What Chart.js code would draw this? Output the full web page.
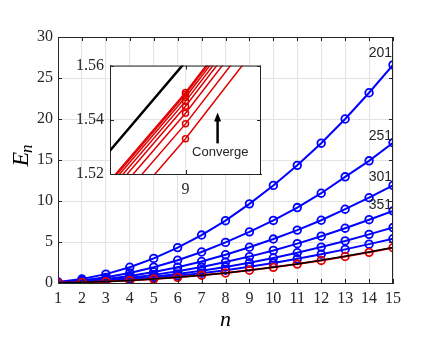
<!DOCTYPE html>
<html>
<head>
<meta charset="utf-8">
<script src="https://cdn.jsdelivr.net/npm/chart.js@4"></script>
<style>
  body { margin: 0; background: #fff; }
  #wrap { position: relative; width: 436px; height: 349px; }
  #main { position: absolute; left: 0; top: 0; }
  #inset { position: absolute; left: 70px; top: 50px; }
</style>
</head>
<body>
<div id="wrap">
  <canvas id="main" width="436" height="349"></canvas>
  <canvas id="inset" width="200" height="150"></canvas>
</div>
<script>
// quantum number n
const nValues = [1, 2, 3, 4, 5, 6, 7, 8, 9, 10, 11, 12, 13, 14, 15];

// blue curves (grid sizes 201, 251, 301, 351 and two finer ones)
const blue201 = [0.12, 0.48, 1.08, 1.92, 3.0, 4.32, 5.85, 7.6, 9.65, 11.9, 14.35, 17.05, 20.0, 23.2, 26.6];
const blue251 = [0.08, 0.31, 0.69, 1.23, 1.93, 2.78, 3.78, 4.95, 6.24, 7.63, 9.2, 10.95, 12.95, 14.9, 17.1];
const blue301 = [0.05, 0.21, 0.48, 0.86, 1.34, 1.93, 2.62, 3.45, 4.36, 5.36, 6.45, 7.65, 9.0, 10.4, 11.9];
const blue351 = [0.04, 0.16, 0.36, 0.64, 0.99, 1.43, 1.95, 2.55, 3.22, 3.97, 4.8, 5.71, 6.68, 7.72, 8.8];
const blue401 = [0.03, 0.12, 0.27, 0.49, 0.76, 1.1, 1.49, 1.95, 2.47, 3.05, 3.69, 4.38, 5.13, 5.93, 6.76];
const blue451 = [0.02, 0.1, 0.22, 0.39, 0.61, 0.87, 1.19, 1.56, 1.97, 2.43, 2.95, 3.5, 4.1, 4.74, 5.4];
const blueSeries = [blue201, blue251, blue301, blue351, blue401, blue451];
const blueLabels = ['201', '251', '301', '351'];

// red (converging method) and black (exact)
const redValues = [0.02, 0.08, 0.17, 0.3, 0.48, 0.69, 0.94, 1.22, 1.55, 1.91, 2.31, 2.75, 3.23, 3.74, 4.3];
const exactValues = [0.02, 0.08, 0.17, 0.31, 0.48, 0.69, 0.94, 1.23, 1.56, 1.93, 2.33, 2.78, 3.26, 3.78, 4.34];

// inset: zoom around n = 9
const insetN = [8, 9, 10];
const insetRed = [
  [1.2113, 1.533, 1.8926],
  [1.2156, 1.5385, 1.8994],
  [1.2187, 1.5424, 1.9042],
  [1.2207, 1.545, 1.9074],
  [1.2222, 1.5468, 1.9096],
  [1.2233, 1.5483, 1.9115],
  [1.2242, 1.5494, 1.9128],
  [1.2248, 1.5501, 1.9137]
];
const insetExact = [1.2337, 1.5614, 1.9277];
const insetYTicks = [1.52, 1.54, 1.56];
const insetXTicks = [9];

// label anchor heights (data units) for the N labels
const labelY = [28.0, 17.9, 12.9, 9.5];

const AX = '#262626';
const GRID = '#e3e3e3';
const BLUE = '#0000ff';
const RED = '#e00000';

const pts = (xs, ys) => ys.map((v, i) => ({ x: xs[i], y: v }));

// box + inward ticks like matlab
const boxPlugin = {
  id: 'box',
  beforeDraw(chart) {
    if (!chart.options.plugins.box.fill) return;
    const a = chart.chartArea, ctx = chart.ctx;
    ctx.save();
    ctx.fillStyle = '#fff';
    ctx.fillRect(a.left, a.top, a.right - a.left, a.bottom - a.top);
    ctx.restore();
  },
  afterDraw(chart) {
    const a = chart.chartArea, ctx = chart.ctx;
    const len = 4;
    ctx.save();
    ctx.strokeStyle = AX;
    ctx.lineWidth = 1;
    ctx.beginPath();
    ctx.moveTo(a.left, a.top + 0.5); ctx.lineTo(a.right, a.top + 0.5);
    ctx.moveTo(a.right - 0.5, a.top); ctx.lineTo(a.right - 0.5, a.bottom);
    chart.scales.x.ticks.forEach(t => {
      const px = Math.round(chart.scales.x.getPixelForValue(t.value)) + 0.5;
      ctx.moveTo(px, a.bottom); ctx.lineTo(px, a.bottom - len);
      ctx.moveTo(px, a.top); ctx.lineTo(px, a.top + len);
    });
    chart.scales.y.ticks.forEach(t => {
      const py = Math.round(chart.scales.y.getPixelForValue(t.value)) + 0.5;
      ctx.moveTo(a.left, py); ctx.lineTo(a.left + len, py);
      ctx.moveTo(a.right, py); ctx.lineTo(a.right - len, py);
    });
    ctx.stroke();
    ctx.restore();
  }
};

const textPlugin = {
  id: 'texts',
  afterDatasetsDraw(chart) {
    const ctx = chart.ctx, xs = chart.scales.x, ys = chart.scales.y;
    ctx.save();
    ctx.fillStyle = AX;
    ctx.font = '14px "Liberation Sans"';
    ctx.textAlign = 'right';
    ctx.textBaseline = 'middle';
    blueLabels.forEach((lab, i) => {
      ctx.fillText(lab, xs.getPixelForValue(15) - 1, ys.getPixelForValue(labelY[i]));
    });
    ctx.restore();
  },
  afterDraw(chart) {
    // y title: E with subscript n
    const ctx = chart.ctx;
    ctx.save();
    ctx.translate(28, 155);
    ctx.rotate(-Math.PI / 2);
    ctx.fillStyle = '#000';
    ctx.textBaseline = 'alphabetic';
    ctx.font = 'italic 24px "Liberation Serif"';
    const wE = ctx.measureText('E').width;
    ctx.font = 'italic 17px "Liberation Serif"';
    const wn = ctx.measureText('n').width;
    const x0 = -(wE + wn) / 2;
    ctx.font = 'italic 24px "Liberation Serif"';
    ctx.fillText('E', x0, 0);
    ctx.font = 'italic 17px "Liberation Serif"';
    ctx.fillText('n', x0 + wE - 1, 4);
    ctx.restore();
  }
};

const datasets = [
  {
    data: pts(nValues, exactValues), borderColor: '#000', borderWidth: 1.5,
    pointRadius: 0
  },
  {
    data: pts(nValues, redValues), borderColor: RED, borderWidth: 2,
    pointRadius: 3.8, pointBorderWidth: 1.8, pointBorderColor: RED,
    pointBackgroundColor: 'rgba(0,0,0,0)'
  }
];
blueSeries.forEach(s => datasets.push({
  data: pts(nValues, s), borderColor: BLUE, borderWidth: 2,
  pointRadius: 3.8, pointBorderWidth: 1.8, pointBorderColor: BLUE,
  pointBackgroundColor: 'rgba(0,0,0,0)'
}));

const tickFont = { family: 'Liberation Serif', size: 16 };

new Chart(document.getElementById('main'), {
  type: 'line',
  data: { datasets },
  options: {
    responsive: false,
    animation: false,
    layout: { padding: { left: 0, top: 37, right: 43, bottom: 0 } },
    plugins: { legend: { display: false }, tooltip: { enabled: false }, box: { fill: false } },
    scales: {
      x: {
        type: 'linear', min: 1, max: 15,
        ticks: { stepSize: 1, padding: 6, font: tickFont, color: AX, maxRotation: 0, autoSkip: false },
        grid: { color: GRID, drawTicks: false },
        border: { color: AX },
        title: { display: true, text: 'n', color: '#000',
          font: { family: 'Liberation Serif', size: 22, style: 'italic' }, padding: { top: 0, bottom: 16 } },
        afterFit: s => { s.height = 66; }
      },
      y: {
        min: 0, max: 30,
        ticks: { stepSize: 5, padding: 5, font: tickFont, color: AX },
        grid: { color: GRID, drawTicks: false },
        border: { color: AX },
        afterFit: s => { s.width = 58; }
      }
    }
  },
  plugins: [boxPlugin, textPlugin]
});

// inset
const insetSets = [
  { data: pts(insetN, insetExact), borderColor: '#000', borderWidth: 2.5, pointRadius: 0 }
];
insetRed.forEach(s => insetSets.push({
  data: pts(insetN, s), borderColor: RED, borderWidth: 1.5,
  pointRadius: 3, pointBorderWidth: 1.5, pointBorderColor: RED,
  pointBackgroundColor: 'rgba(0,0,0,0)'
}));

const arrowPlugin = {
  id: 'arrow',
  afterDatasetsDraw(chart) {
    const ctx = chart.ctx, xs = chart.scales.x, ys = chart.scales.y;
    const ax = xs.getPixelForValue(9.0425);
    const yb = ys.getPixelForValue(1.5313);
    const yt = ys.getPixelForValue(1.5427);
    ctx.save();
    ctx.strokeStyle = '#000';
    ctx.fillStyle = '#000';
    ctx.lineWidth = 2.5;
    ctx.beginPath();
    ctx.moveTo(ax, yb); ctx.lineTo(ax, yt + 7);
    ctx.stroke();
    ctx.beginPath();
    ctx.moveTo(ax, yt); ctx.lineTo(ax - 3.5, yt + 9); ctx.lineTo(ax + 3.5, yt + 9);
    ctx.closePath();
    ctx.fill();
    ctx.font = '13px "Liberation Sans"';
    ctx.textAlign = 'center';
    ctx.textBaseline = 'middle';
    ctx.fillStyle = AX;
    ctx.fillText('Converge', xs.getPixelForValue(9.046), ys.getPixelForValue(1.5278));
    ctx.restore();
  }
};

new Chart(document.getElementById('inset'), {
  type: 'line',
  data: { datasets: insetSets },
  options: {
    responsive: false,
    animation: false,
    layout: { padding: { left: 0, top: 11, right: 9, bottom: 0 } },
    plugins: { legend: { display: false }, tooltip: { enabled: false }, box: { fill: true } },
    scales: {
      x: {
        type: 'linear', min: 8.9, max: 9.1,
        afterBuildTicks: s => { s.ticks = insetXTicks.map(v => ({ value: v })); },
        ticks: { padding: 6, font: tickFont, color: AX, maxRotation: 0, callback: v => String(v) },
        grid: { color: GRID, drawTicks: false },
        border: { color: AX },
        afterFit: s => { s.height = 26; }
      },
      y: {
        min: 1.52, max: 1.56,
        afterBuildTicks: s => { s.ticks = insetYTicks.map(v => ({ value: v })); },
        ticks: { padding: 6, font: tickFont, color: AX, callback: v => v.toFixed(2) },
        grid: { color: GRID, drawTicks: false },
        border: { color: AX },
        afterFit: s => { s.width = 40; }
      }
    }
  },
  plugins: [boxPlugin, arrowPlugin]
});
</script>
</body>
</html>
